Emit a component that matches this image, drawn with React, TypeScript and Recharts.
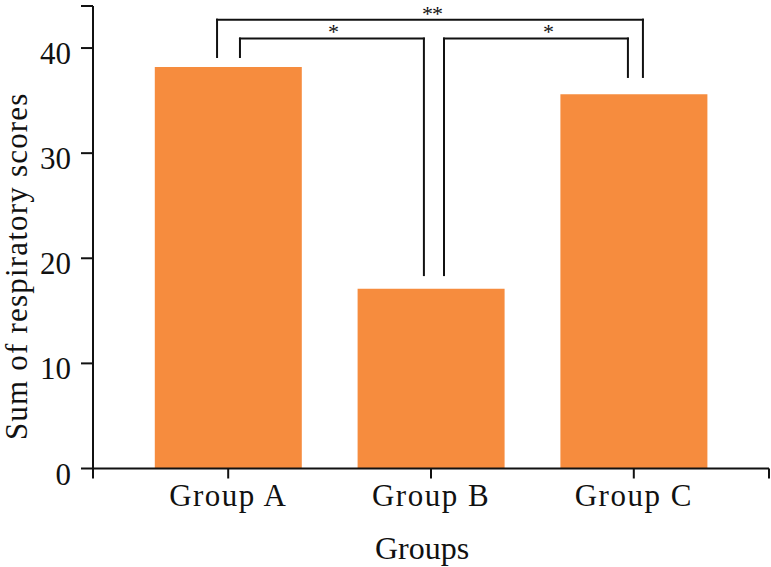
import React from 'react';
import { BarChart, Bar, XAxis, YAxis, ReferenceLine, ReferenceDot, Label } from 'recharts';

const categories = ['Group A', 'Group B', 'Group C'];
const positions = [1, 2, 3];
const scores = [38.2, 17.1, 35.6];
const yTicks = [0, 10, 20, 30, 40];
const yMax = 44;
const xDomain = [1 / 3, 11 / 3];

// significance brackets: [left x, right x, top y, left foot y, right foot y]
const bracketLeft = [0.945, 1.058, 2.064];
const bracketRight = [3.045, 1.965, 2.971];
const bracketTop = [42.7, 40.9, 40.9];
const bracketFootL = [39.15, 39.15, 18.4];
const bracketFootR = [37.25, 18.4, 37.25];
const starLabels = ['**', '*', '*'];
const starX = [2.005, 1.517, 2.577];
const starY = [43.65, 41.9, 41.9];

const data = categories.map((c, i) => ({ pos: positions[i], name: c, score: scores[i] }));

const FONT = '"Liberation Serif", "Times New Roman", serif';
const BAR = '#F68C3E';

const XTick = (props: any) => {
  const { x, y, payload } = props;
  const idx = positions.indexOf(payload.value);
  if (idx < 0) return <g />;
  return (
    <text x={x} y={y + 25} textAnchor="middle" fontFamily={FONT} fontSize={31} letterSpacing={1.5} fill="#111">
      {categories[idx]}
    </text>
  );
};

const YTick = (props: any) => {
  const { x, y, payload } = props;
  if (yTicks.indexOf(payload.value) < 0) return <g />;
  return (
    <text x={x - 8} y={y + 16} textAnchor="end" fontFamily={FONT} fontSize={31} fill="#111">
      {payload.value}
    </text>
  );
};

const XTitle = (props: any) => {
  const vb = props.viewBox;
  return (
    <text x={vb.x + vb.width / 2 - 9} y={vb.y + 90} textAnchor="middle" fontFamily={FONT} fontSize={32} fill="#111">
      Groups
    </text>
  );
};

const YTitle = (props: any) => {
  const vb = props.viewBox;
  const cx = 27;
  const cy = vb.y + vb.height / 2 + 29;
  return (
    <text x={cx} y={cy} transform={`rotate(-90, ${cx}, ${cy})`} textAnchor="middle" fontFamily={FONT} fontSize={31} letterSpacing={1.2} fill="#111">
      Sum of respiratory scores
    </text>
  );
};

const Star = (label: string) => (p: any) => (
  <text x={p.cx} y={p.cy + 11} textAnchor="middle" fontFamily={FONT} fontSize={22} letterSpacing={-1} fill="#111">
    {label}
  </text>
);

export default function App() {
  const lineProps = { stroke: '#111', strokeWidth: 2, strokeLinecap: 'square' as const, ifOverflow: 'visible' as const };
  return (
    <div style={{ position: 'absolute', left: 0, top: 0, background: '#fff' }}>
      <BarChart width={771} height={567} data={data} margin={{ top: 6, right: 2, left: 0, bottom: 0 }}>
        <XAxis
          dataKey="pos"
          type="number"
          domain={xDomain}
          ticks={[xDomain[0], ...positions, xDomain[1]]}
          allowDataOverflow
          height={98.5}
          tickSize={10}
          axisLine={{ stroke: '#111', strokeWidth: 2 }}
          tickLine={{ stroke: '#111', strokeWidth: 2 }}
          tick={<XTick />}
          interval={0}
        >
          <Label content={<XTitle />} />
        </XAxis>
        <YAxis
          type="number"
          domain={[0, yMax]}
          ticks={[...yTicks, yMax]}
          width={93}
          tickSize={12}
          axisLine={{ stroke: '#111', strokeWidth: 2 }}
          tickLine={{ stroke: '#111', strokeWidth: 2 }}
          tick={<YTick />}
          interval={0}
        >
          <Label content={<YTitle />} />
        </YAxis>
        <Bar dataKey="score" fill={BAR} barSize={147} isAnimationActive={false} />
        {bracketLeft.map((xl, i) => (
          <ReferenceLine key={`h${i}`} segment={[{ x: xl, y: bracketTop[i] }, { x: bracketRight[i], y: bracketTop[i] }]} {...lineProps} />
        ))}
        {bracketLeft.map((xl, i) => (
          <ReferenceLine key={`l${i}`} segment={[{ x: xl, y: bracketTop[i] }, { x: xl, y: bracketFootL[i] }]} {...lineProps} />
        ))}
        {bracketRight.map((xr, i) => (
          <ReferenceLine key={`r${i}`} segment={[{ x: xr, y: bracketTop[i] }, { x: xr, y: bracketFootR[i] }]} {...lineProps} />
        ))}
        {starLabels.map((s, i) => (
          <ReferenceDot key={`s${i}`} x={starX[i]} y={starY[i]} r={0} shape={Star(s)} ifOverflow="visible" />
        ))}
      </BarChart>
    </div>
  );
}
